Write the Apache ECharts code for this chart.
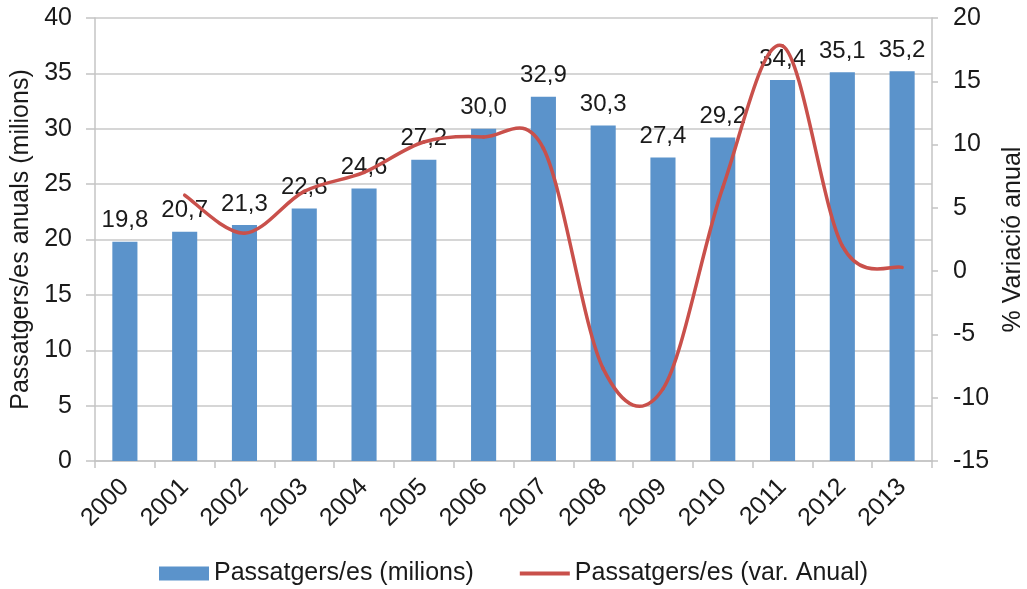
<!DOCTYPE html>
<html><head><meta charset="utf-8">
<script src="https://cdn.jsdelivr.net/npm/echarts@6/dist/echarts.min.js"></script>
<style>html,body{margin:0;padding:0;background:#fff}#c{width:1027px;height:589px}</style>
</head><body><div id="c"></div>
<script>
const years = ['2000','2001','2002','2003','2004','2005','2006','2007','2008','2009','2010','2011','2012','2013'];
const passengers = [19.8,20.7,21.3,22.8,24.6,27.2,30.0,32.9,30.3,27.4,29.2,34.4,35.1,35.2];
const variation = [null,6.0,3.0,6.3,7.8,10.2,10.6,9.7,-7.7,-9.3,6.6,17.8,2.0,0.3];
const barName = 'Passatgers/es (milions)';
const lineName = 'Passatgers/es (var. Anual)';
const F = 'Liberation Sans, Arial, sans-serif';
const LINE_COLOR = '#C9504B';
const lineData = [];
variation.forEach((v, i) => { if (v !== null) lineData.push([i, v]); });

// Smoothed line (Catmull-Rom style, as in spreadsheet smoothed lines) drawn through library coords
function renderSmooth(params, api) {
  const k = params.dataIndex;
  if (k >= lineData.length - 1) return null;
  const pt = j => {
    const jj = Math.max(0, Math.min(lineData.length - 1, j));
    return api.coord([lineData[jj][0], lineData[jj][1]]);
  };
  const p0 = pt(k - 1), p1 = pt(k), p2 = pt(k + 1), p3 = pt(k + 2);
  const t = 1 / 6;
  return {
    type: 'bezierCurve',
    shape: {
      x1: p1[0], y1: p1[1], x2: p2[0], y2: p2[1],
      cpx1: p1[0] + (p2[0] - p0[0]) * t, cpy1: p1[1] + (p2[1] - p0[1]) * t,
      cpx2: p2[0] - (p3[0] - p1[0]) * t, cpy2: p2[1] - (p3[1] - p1[1]) * t
    },
    style: { stroke: LINE_COLOR, lineWidth: 3.5, fill: null, lineCap: 'round' }
  };
}

const chart = echarts.init(document.getElementById('c'));
chart.setOption({
  animation:false,
  textStyle:{fontFamily:F},
  grid:{left:95,right:95,top:18,bottom:128,containLabel:false,outerBoundsMode:'none'},
  legend:{bottom:0,left:'center',itemGap:46,itemWidth:50,itemHeight:14,padding:[5,5,3,5],
    textStyle:{fontFamily:F,fontSize:25,color:'#1a1a1a'},
    data:[{name:barName,icon:'rect'},
          {name:lineName,icon:'path://M0,0 L50,0 L50,4 L0,4 Z'}]},
  xAxis:{type:'category',data:years,
    axisLine:{lineStyle:{color:'#c4c4c4',width:1.5}},
    axisTick:{show:true,alignWithLabel:false,length:7,lineStyle:{color:'#c4c4c4',width:1.5}},
    axisLabel:{rotate:45,fontSize:25,color:'#1a1a1a',fontFamily:F,margin:22}},
  yAxis:[
    {type:'value',min:0,max:40,interval:5,
     name:'Passatgers/es anuals (milions)',nameLocation:'middle',nameGap:59,
     nameTextStyle:{fontSize:25,color:'#1a1a1a',fontFamily:F},
     axisLine:{show:true,lineStyle:{color:'#c4c4c4',width:1.5}},
     axisTick:{show:true,length:9,lineStyle:{color:'#c4c4c4',width:1.5}},
     axisLabel:{fontSize:25,color:'#1a1a1a',fontFamily:F,margin:23},
     splitLine:{lineStyle:{color:'#c8c8c8',width:1.5}}},
    {type:'value',min:-15,max:20,interval:5,
     name:'% Variació anual',nameLocation:'middle',nameGap:69,nameRotate:90,
     nameTextStyle:{fontSize:25,color:'#1a1a1a',fontFamily:F},
     axisLine:{show:true,lineStyle:{color:'#c4c4c4',width:1.5}},
     axisTick:{show:true,length:6,lineStyle:{color:'#c4c4c4',width:1.5}},
     axisLabel:{fontSize:25,color:'#1a1a1a',fontFamily:F,margin:21},
     splitLine:{show:false}}
  ],
  series:[
    {name:barName,type:'bar',data:passengers,barWidth:'42%',yAxisIndex:0,
     itemStyle:{color:'#5B93CB'},
     label:{show:true,position:'top',distance:9,fontSize:24,color:'#1a1a1a',fontFamily:F,
       formatter:p=>p.value.toFixed(1).replace('.',',')}},
    {name:lineName,type:'custom',yAxisIndex:1,data:lineData,
     encode:{x:0,y:1},renderItem:renderSmooth,z:3,
     itemStyle:{color:LINE_COLOR}}
  ]
});
</script></body></html>
